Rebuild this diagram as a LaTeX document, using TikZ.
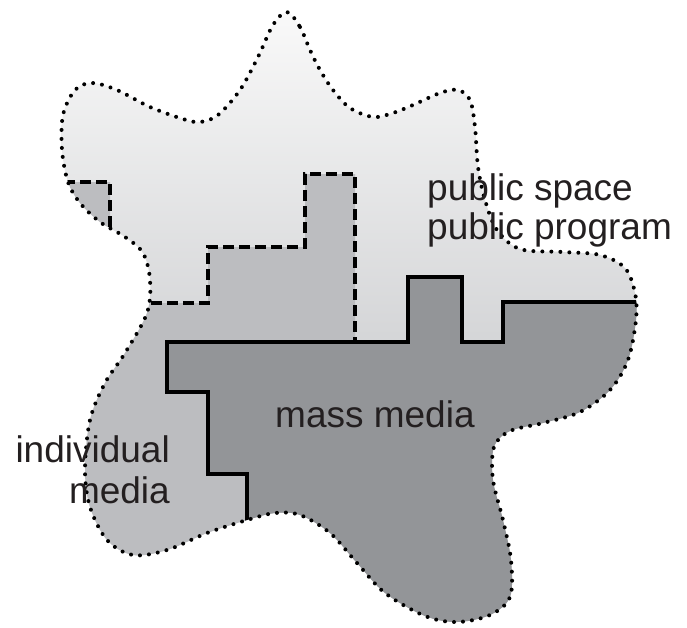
\documentclass[tikz,border=0pt]{standalone}
\usepackage{fontspec}
\setmainfont{Liberation Sans}
\definecolor{lighttop}{HTML}{F9F9F9}
\definecolor{lightbot}{HTML}{D4D5D7}
\definecolor{midgray}{HTML}{BCBDC0}
\definecolor{darkgray}{HTML}{939598}
\definecolor{inkcol}{HTML}{231F20}
\tikzset{
  dotline/.style={draw=black, line width=4pt, line cap=round, dash pattern=on 0pt off 9pt},
  dashline/.style={draw=black, line width=3.4pt, dash pattern=on 11pt off 5pt},
  solidline/.style={draw=black, line width=4.4pt, line join=miter},
  lbl/.style={font=\fontsize{37}{41}\selectfont, text=inkcol, inner sep=0pt}
}
\begin{document}
\begin{tikzpicture}[x=1pt,y=-1pt]
\useasboundingbox (0,0) rectangle (687,627);
\def\blobpath{plot[smooth cycle, tension=0.55] coordinates {
(287,12) (300,27) (310,50) (320,70) (333,90) (350,108) (373,117) (393,113)
(413,105) (440,93) (458,90) (470,100) (475,127) (478,167) (485,200) (497,230)
(520,249) (563,252) (600,255) (625,268) (635,293) (636,320) (628,360) (610,390)
(580,412) (543,423) (510,431) (494,447) (493,480) (503,520) (511,560) (510,597)
(490,615) (457,622) (425,616) (385,593) (357,563) (330,533) (300,515) (275,513)
(247,520) (207,533) (167,550) (133,555) (107,540) (90,507) (85,470) (90,420)
(105,383) (125,353) (147,313) (150,280) (143,253) (125,237) (100,222) (80,203)
(68,182) (62,150) (63,115) (75,90) (92,83) (117,90) (150,107) (183,119)
(200,122) (218,115) (240,90) (258,57) (273,25)}}
% light region (public space) with vertical gradient
\begin{scope}
  \clip \blobpath;
  \shade[top color=lighttop, bottom color=lightbot] (0,12) rectangle (687,345);
  \fill[lightbot] (0,344) rectangle (687,627);
  % individual media region
  \fill[midgray] (0,182) -- (110,182) -- (110,303) -- (208,303) -- (208,247)
    -- (305,247) -- (305,174) -- (355,174) -- (355,700) -- (0,700) -- cycle;
  % mass media region
  \fill[darkgray] (167,342) -- (408,342) -- (408,277) -- (462,277) -- (462,342)
    -- (503,342) -- (503,302) -- (700,302) -- (700,700) -- (247,700)
    -- (247,474) -- (208,474) -- (208,392) -- (167,392) -- cycle;
  % dashed boundary of individual media
  \draw[dashline] (0,182) -- (110,182) -- (110,303) -- (208,303) -- (208,247)
    -- (305,247) -- (305,174) -- (355,174) -- (355,342);
  % solid boundary of mass media
  \draw[solidline] (700,302) -- (503,302) -- (503,342) -- (462,342) -- (462,277)
    -- (408,277) -- (408,342) -- (167,342) -- (167,392) -- (208,392)
    -- (208,474) -- (247,474) -- (247,700);
\end{scope}
% dotted outline of the whole field
\draw[dotline] \blobpath;
% labels
\node[lbl, anchor=base west] (ps) at (427,200) {public space};
\node[lbl, anchor=base west] (pp) at (427,239) {public program};
\node[lbl, anchor=base west] (mm) at (275,427) {mass media};
\node[lbl, anchor=base east] (im1) at (170,462) {individual};
\node[lbl, anchor=base east] (im2) at (170,503) {media};
\end{tikzpicture}
\end{document}
